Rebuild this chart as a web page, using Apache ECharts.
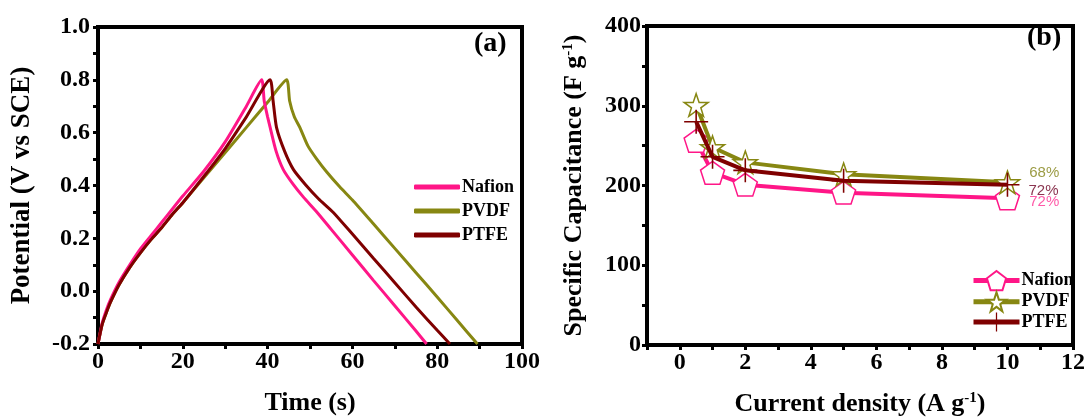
<!DOCTYPE html>
<html>
<head>
<meta charset="utf-8">
<script src="https://cdn.jsdelivr.net/npm/echarts@6/dist/echarts.min.js"></script>
<style>
html, body { margin: 0; padding: 0; background: #fff; }
#main { width: 1088px; height: 419px; }
</style>
</head>
<body>
<div id="main"></div>
<script>
var names = ['Nafion', 'PVDF', 'PTFE'];
var colors = ['#ff1687', '#878712', '#7f0000'];

// (a) galvanostatic charge-discharge
var nafionT = [0, 1, 2, 3, 5, 7.5, 10, 12.5, 15, 17.5, 20, 25, 30, 35, 38.6, 39.2, 40, 40.6, 42, 43.7, 46, 48.5, 51.6, 55, 60, 65, 70, 75, 77.5];
var nafionV = [-0.2, -0.12, -0.07, -0.03, 0.035, 0.1, 0.16, 0.21, 0.26, 0.31, 0.36, 0.455, 0.565, 0.7, 0.8, 0.72, 0.66, 0.62, 0.53, 0.46, 0.405, 0.355, 0.3, 0.234, 0.137, 0.04, -0.055, -0.151, -0.2];
var pvdfT = [0, 1, 2, 3, 5, 7.5, 10, 12.5, 15, 17.5, 20, 25, 30, 35, 40, 44.5, 45.2, 46.3, 47.6, 49.5, 51.6, 54, 57, 60, 65, 70, 75, 80, 85, 89.5];
var pvdfV = [-0.2, -0.125, -0.08, -0.04, 0.025, 0.09, 0.145, 0.195, 0.24, 0.29, 0.335, 0.43, 0.525, 0.62, 0.715, 0.8, 0.72, 0.66, 0.62, 0.55, 0.5, 0.45, 0.395, 0.345, 0.254, 0.162, 0.07, -0.022, -0.116, -0.2];
var ptfeT = [0, 1, 2, 3, 5, 7.5, 10, 12.5, 15, 17.5, 20, 25, 30, 35, 40.6, 41.3, 42.1, 44, 46.1, 49, 52, 55.5, 60, 65, 70, 75, 80, 83];
var ptfeV = [-0.2, -0.125, -0.08, -0.04, 0.025, 0.09, 0.145, 0.195, 0.24, 0.29, 0.335, 0.435, 0.54, 0.66, 0.8, 0.72, 0.62, 0.53, 0.46, 0.402, 0.35, 0.298, 0.216, 0.124, 0.032, -0.06, -0.148, -0.2];

// (b) specific capacitance vs current density
var density = [0.5, 1, 2, 5, 10];
var nafionCap = [256, 216, 201, 191, 184];
var pvdfCap = [301, 248, 229, 214, 204];
var ptfeCap = [280, 236, 219, 206, 201];
var retention = ['72%', '68%', '72%'];

var serif = '"Liberation Serif", "Times New Roman", serif';

function pairs(xs, ys) {
  return xs.map(function (x, i) { return [x, ys[i]]; });
}

var pentagon = 'path://M50,0 L97.6,34.5 L79.4,90.5 L20.6,90.5 L2.4,34.5 Z';
var star = 'path://M50,0 L61.8,35.1 L98.1,35.1 L68.8,56.7 L79.4,90.5 L50,69.1 L20.6,90.5 L31.2,56.7 L1.9,35.1 L38.2,35.1 Z';
var plus = 'path://M9.35,0 H10.65 V20 H9.35 Z M0,9.35 H20 V10.65 H0 Z';

var labelStyle = { fontFamily: serif, fontWeight: 'bold', fontSize: 24, color: '#000' };
var nameStyle = {
  fontFamily: serif, fontWeight: 'bold', fontSize: 26, color: '#000',
  rich: { sup: { fontFamily: serif, fontWeight: 'bold', fontSize: 15, verticalAlign: 'top', lineHeight: 26 } }
};
var tick = { show: true, length: 5, lineStyle: { color: '#000', width: 3 } };
var minor = { show: true, splitNumber: 2, length: 5, lineStyle: { color: '#000', width: 3 } };
var line = { onZero: false, lineStyle: { color: '#000', width: 4 } };

function gcdSeries(k, t, v, z) {
  return {
    name: names[k], type: 'line', xAxisIndex: 0, yAxisIndex: 0,
    data: pairs(t, v), symbol: 'none', smooth: 0.2, z: z,
    lineStyle: { color: colors[k], width: 3 }, itemStyle: { color: colors[k] }
  };
}

function capSeries(k, data, symbol, size, fill, border) {
  var pts = pairs(density, data);
  var offsets = [[0, 4], [0, -9], [0, 6]];
  pts[pts.length - 1] = {
    value: pts[pts.length - 1],
    label: {
      show: true, position: 'right', distance: 9, offset: offsets[k],
      formatter: retention[k], fontFamily: 'Liberation Sans, Arial, sans-serif', fontSize: 15,
      color: ['#ff5aa8', '#9c9c45', '#8b3550'][k]
    }
  };
  return {
    name: names[k] + ' (b)', type: 'line', xAxisIndex: 1, yAxisIndex: 1,
    data: pts, symbol: symbol, symbolSize: size, symbolKeepAspect: true,
    z: 3 + k,
    lineStyle: { color: colors[k], width: 4 },
    itemStyle: { color: fill, borderColor: colors[k], borderWidth: border }
  };
}

var chart = echarts.init(document.getElementById('main'));
var option = {
  animation: false,
  grid: [
    { left: 98, right: 566, top: 27, bottom: 75, show: true, borderColor: '#000', borderWidth: 4, outerBoundsMode: 'none' },
    { left: 647, right: 15, top: 26, bottom: 74, show: true, borderColor: '#000', borderWidth: 4, outerBoundsMode: 'none' }
  ],
  xAxis: [
    {
      gridIndex: 0, type: 'value', min: 0, max: 100, interval: 20,
      name: 'Time (s)', nameLocation: 'middle', nameGap: 46, nameTextStyle: nameStyle,
      axisLine: line, axisTick: tick, minorTick: minor,
      splitLine: { show: false }, axisLabel: Object.assign({ margin: 6 }, labelStyle)
    },
    {
      gridIndex: 1, type: 'value', min: -1, max: 12, interval: 1,
      name: 'Current density (A g{sup|-1})', nameLocation: 'middle', nameGap: 46, nameTextStyle: nameStyle,
      axisLine: line, axisTick: tick, splitLine: { show: false },
      axisLabel: Object.assign({
        margin: 6,
        formatter: function (v) { return (v >= 0 && v % 2 === 0) ? String(v) : ''; }
      }, labelStyle)
    }
  ],
  yAxis: [
    {
      gridIndex: 0, type: 'value', min: -0.2, max: 1.0, interval: 0.2,
      name: 'Potential (V vs SCE)', nameLocation: 'middle', nameGap: 62, nameTextStyle: Object.assign({}, nameStyle, { fontSize: 27 }),
      axisLine: line, axisTick: tick, minorTick: minor,
      splitLine: { show: false },
      axisLabel: Object.assign({ margin: 8, formatter: function (v) { return v.toFixed(1); } }, labelStyle)
    },
    {
      gridIndex: 1, type: 'value', min: 0, max: 400, interval: 100,
      name: 'Specific Capacitance (F g{sup|-1})', nameLocation: 'middle', nameGap: 60, nameTextStyle: nameStyle,
      axisLine: line, axisTick: tick, minorTick: minor,
      splitLine: { show: false }, axisLabel: Object.assign({ margin: 6 }, labelStyle)
    }
  ],
  legend: [
    {
      data: names.map(function (n) { return { name: n, icon: 'roundRect' }; }),
      orient: 'vertical', left: 409, top: 173,
      itemWidth: 46, itemHeight: 5, itemGap: 6, selectedMode: false,
      textStyle: { fontFamily: serif, fontWeight: 'bold', fontSize: 18, lineHeight: 18, color: '#000', padding: [0, 0, 0, -3] }
    },
    {
      data: names.map(function (n) { return n + ' (b)'; }), orient: 'vertical', left: 966, top: 265,
      itemWidth: 46, itemHeight: 24, itemGap: 0, selectedMode: false,
      lineStyle: { width: 5 },
      formatter: function (n) { return n.replace(' (b)', ''); },
      textStyle: { fontFamily: serif, fontWeight: 'bold', fontSize: 18, lineHeight: 18, color: '#000', padding: [0, 0, 0, -3] }
    }
  ],
  graphic: [
    { type: 'text', left: 474, top: 30, z: 100, style: { text: '(a)', fontFamily: serif, fontWeight: 'bold', fontSize: 28, fill: '#000' } },
    { type: 'text', left: 1027, top: 24, z: 100, style: { text: '(b)', fontFamily: serif, fontWeight: 'bold', fontSize: 28, fill: '#000' } }
  ],
  series: [
    gcdSeries(1, pvdfT, pvdfV, 2),
    gcdSeries(0, nafionT, nafionV, 3),
    gcdSeries(2, ptfeT, ptfeV, 4),
    capSeries(0, nafionCap, pentagon, 24, '#fff', 1.5),
    capSeries(1, pvdfCap, star, 24, '#fff', 1.5),
    capSeries(2, ptfeCap, plus, 24, colors[2], 0)
  ]
};
chart.setOption(option);
</script>
</body>
</html>
